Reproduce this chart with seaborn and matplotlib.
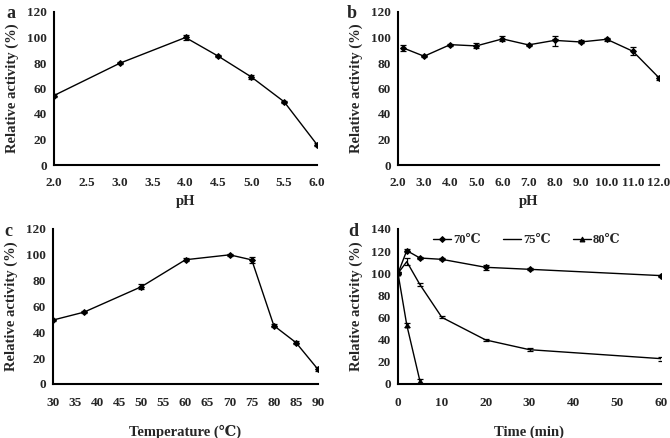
import numpy as np
import pandas as pd
import matplotlib
matplotlib.use("Agg")
import matplotlib.pyplot as plt
import seaborn as sns

# panel a: pH optimum
ph_a = [2.0, 3.0, 4.0, 4.5, 5.0, 5.5, 6.0]
act_a = [54.5, 79.8, 100.0, 85.3, 69.1, 49.6, 16.0]
err_a = [1.0, 0.8, 2.0, 0.8, 1.5, 0.8, 1.2]

# panel b: pH stability (two buffers meet at pH 8)
ph_b = [2.2, 3.0, 4.0, 5.0, 6.0, 7.0, 8.0, 8.0, 9.0, 10.0, 11.0, 12.0]
act_b = [91.8, 85.3, 94.4, 93.4, 98.9, 94.2, 95.5, 100.0, 96.5, 98.6, 89.2, 68.4]
err_b = [2.0, 0.8, 0.8, 2.0, 2.0, 0.8, 2.5, 0.8, 1.2, 1.2, 3.0, 1.5]

# panel c: temperature optimum
temp_c = [30, 37, 50, 60, 70, 75, 80, 85, 90]
act_c = [49.5, 55.6, 75.3, 96.2, 100.0, 96.1, 45.2, 32.1, 11.3]
err_c = [0.8, 0.8, 2.0, 1.0, 1.0, 2.5, 1.0, 1.5, 1.5]

# panel d: thermostability
time_d = [0, 2, 5, 10, 20, 30, 60]
act_70 = [100.0, 120.5, 113.8, 112.6, 105.4, 103.6, 97.9]
err_70 = [1.0, 1.0, 1.0, 1.0, 2.0, 1.0, 1.0]
act_75 = [100.0, 110.5, 89.8, 60.2, 39.8, 31.0, 22.9]
err_75 = [1.0, 3.0, 1.5, 1.0, 1.0, 1.5, 1.8]
time_80 = [0, 2, 5]
act_80 = [100.0, 53.3, 2.7]
err_80 = [1.0, 1.5, 2.0]

sns.set_style("white")
plt.rcParams["font.family"] = ["Liberation Serif", "DejaVu Serif"]
plt.rcParams["font.weight"] = "bold"
plt.rcParams["axes.labelweight"] = "bold"

fig = plt.figure(figsize=(6.7, 4.38), dpi=100)
W, H = 670, 438


def make_ax(l, r, t, b):
    return fig.add_axes([l / W, 1 - b / H, (r - l) / W, (b - t) / H])


ax_a = make_ax(54, 317, 12, 165)
ax_b = make_ax(398, 659, 12, 165)
ax_c = make_ax(53, 318, 229, 384)
ax_d = make_ax(398, 661, 229, 384)


def draw(ax, x, y, e, marker="D", ms=3, label=None):
    df = pd.DataFrame({"x": x, "y": y})
    ax.errorbar(x, y, yerr=e, fmt="none", ecolor="black", elinewidth=0.9,
                capsize=2.5, capthick=0.9)
    sns.lineplot(data=df, x="x", y="y", ax=ax, color="black", lw=1.0,
                 marker=marker, markersize=ms, markeredgecolor="black",
                 sort=False, label=label, legend=False)


def style(ax, xlabel, xticks, xlim, ylim, yticks, xfmt, lpad):
    for s in ["top", "right"]:
        ax.spines[s].set_visible(False)
    for s in ["left", "bottom"]:
        ax.spines[s].set_linewidth(1.5)
        ax.spines[s].set_color("black")
    ax.set_xlim(*xlim)
    ax.set_ylim(*ylim)
    ax.set_xticks(xticks)
    ax.set_xticklabels([xfmt.format(v) for v in xticks])
    ax.set_yticks(yticks)
    ax.tick_params(direction="in", length=4, width=1.2, labelsize=9.5)
    ax.tick_params(axis="x", pad=9)
    ax.tick_params(axis="y", pad=5)
    for t in ax.get_xticklabels() + ax.get_yticklabels():
        t.set_fontweight("bold")
    ax.set_xlabel(xlabel, fontsize=10.5, labelpad=lpad)
    ax.set_ylabel("Relative activity (%)", fontsize=10.5, labelpad=6)


draw(ax_a, ph_a, act_a, err_a)
style(ax_a, "pH", np.arange(2.0, 6.01, 0.5), (2.0, 6.0), (0, 120),
      range(0, 121, 20), "{:.1f}", 4)

draw(ax_b, ph_b, act_b, err_b)
style(ax_b, "pH", np.arange(2.0, 12.01, 1.0), (2.0, 12.0), (0, 120),
      range(0, 121, 20), "{:.1f}", 4)

draw(ax_c, temp_c, act_c, err_c)
style(ax_c, "Temperature (\u2103)", range(30, 91, 5), (30, 90), (0, 120),
      range(0, 121, 20), "{}", 12)

draw(ax_d, time_d, act_70, err_70, marker="D", ms=3, label="70\u2103")
draw(ax_d, time_d, act_75, err_75, marker="", ms=0, label="75\u2103")
draw(ax_d, time_80, act_80, err_80, marker="^", ms=3.5, label="80\u2103")
style(ax_d, "Time (min)", range(0, 61, 10), (0, 60), (0, 140),
      range(0, 141, 20), "{}", 12)
ax_d.legend(loc="upper center", bbox_to_anchor=(0.49, 1.0), ncol=3,
            frameon=False, fontsize=9, handlelength=1.4, columnspacing=1.8,
            handletextpad=0.2, borderaxespad=0.0)

for lab, x, y in [("a", 6, 14), ("b", 347, 14), ("c", 4, 232), ("d", 348, 232)]:
    fig.text(x / W, 1 - y / H, lab, fontsize=13, fontweight="bold",
             va="center", ha="left")

fig.savefig("out.png", dpi=100)
